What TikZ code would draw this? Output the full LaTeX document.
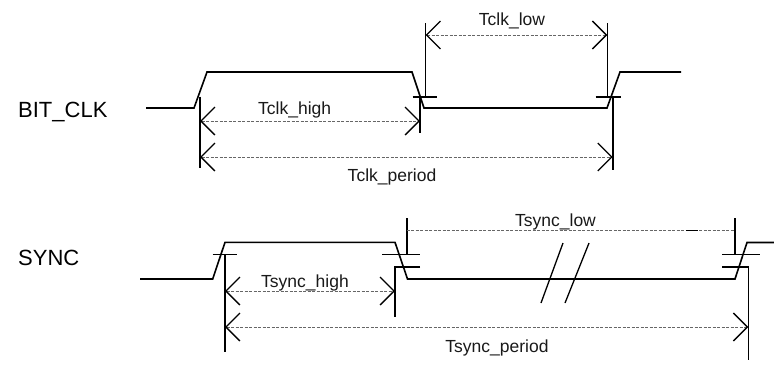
\documentclass[tikz,border=0pt]{standalone}
\usepackage{fontspec}
\setmainfont{Liberation Sans}
\usetikzlibrary{arrows.meta}
\begin{document}
\begin{tikzpicture}[x=1pt,y=-1pt,
  wave/.style={line width=1.6pt, line join=miter},
  refline/.style={line width=1.6pt},
  barb/.tip={Straight Barb[length=14pt,width=28pt,line width=1.3pt,color=black]},
  dimline/.style={line width=0.8pt, dash pattern=on 3pt off 1.5pt, draw=black!60},
  dimarrow/.style={dimline, barb-barb},
  lbl/.style={font=\fontsize{17.5}{20}\selectfont, inner sep=0pt, text=black!90, anchor=base},
  siglbl/.style={font=\fontsize{22}{25}\selectfont, inner sep=0pt, anchor=base west}]
\useasboundingbox (0,0) rectangle (774,365);

% ---------- signal names
\node[siglbl] (nbit) at (18,117) {BIT\_CLK};
\node[siglbl] (nsync) at (18,265.5) {SYNC};

% ---------- BIT_CLK waveform
\coordinate (b0) at (146,108);
\coordinate (b1) at (194,108);
\coordinate (b2) at (207,72);
\coordinate (b3) at (412,72);
\coordinate (b4) at (424,108);
\coordinate (b5) at (607,108);
\coordinate (b6) at (620,72);
\coordinate (b7) at (681,72);
\draw[wave] (b0) -- (b1) -- (b2) -- (b3) -- (b4) -- (b5) -- (b6) -- (b7);

% reference lines BIT_CLK
\coordinate (r1t) at (200,96.7);  \coordinate (r1b) at (200,168);
\coordinate (r2t) at (420,96.7);  \coordinate (r2b) at (420,133);
\coordinate (t2l) at (412.5,96.7); \coordinate (t2r) at (437,96.7);
\coordinate (r3t) at (425.5,23); \coordinate (r3b) at (425.5,96.7);
\coordinate (r4t) at (607.3,23); \coordinate (r4b) at (607.3,96.7);
\coordinate (t4l) at (595.5,96.7); \coordinate (t4r) at (620.5,96.7);
\coordinate (r5t) at (612.7,96.7); \coordinate (r5b) at (612.7,170);
\draw[refline] (r1t) -- (r1b);
\draw[refline] (r2t) -- (r2b);
\draw[refline] (t2l) -- (t2r);
\draw[refline] (r3t) -- (r3b);
\draw[refline] (r4t) -- (r4b);
\draw[refline] (t4l) -- (t4r);
\draw[refline] (r5t) -- (r5b);

% dimensions BIT_CLK
\coordinate (dh1) at (200,121);   \coordinate (dh2) at (420,121);
\coordinate (dp1) at (200,157);   \coordinate (dp2) at (612.7,157);
\coordinate (dl1) at (425.5,35);  \coordinate (dl2) at (607.3,35);
\draw[dimarrow] (dh1) -- (dh2);
\draw[dimarrow] (dp1) -- (dp2);
\draw[dimarrow] (dl1) -- (dl2);
\node[lbl] (lch) at (294.7,114.3) {Tclk\_high};
\node[lbl] (lcp) at (392,181.7) {Tclk\_period};
\node[lbl] (lcl) at (512,25.7) {Tclk\_low};

% ---------- SYNC waveform
\coordinate (s0) at (140,279);
\coordinate (s1) at (212.7,279);
\coordinate (s2) at (225,242.3);
\coordinate (s3) at (395,242.3);
\coordinate (s4) at (407.5,279);
\coordinate (s5) at (735,279);
\coordinate (s6) at (747,242.5);
\coordinate (s7) at (774,242.5);
\draw[wave] (s0) -- (s1) -- (s2) -- (s3) -- (s4) -- (s5) -- (s6) -- (s7);

% reference lines SYNC
\coordinate (u1l) at (212.7,254.3); \coordinate (u1r) at (237.3,254.3);
\coordinate (v1t) at (225,254.3);   \coordinate (v1b) at (225,351.7);
\coordinate (u2l) at (382.3,254.3); \coordinate (u2r) at (420,254.3);
\coordinate (v2t) at (406.7,218.3); \coordinate (v2b) at (406.7,254.3);
\coordinate (w2a) at (420,266.7); \coordinate (w2b) at (395,266.7); \coordinate (w2c) at (395,316.5);
\coordinate (u3l) at (722.3,254.3); \coordinate (u3r) at (760,254.3);
\coordinate (v3t) at (735,218.3);   \coordinate (v3b) at (735,254.3);
\coordinate (w3a) at (722.3,266.7); \coordinate (w3b) at (748.3,266.7); \coordinate (w3c) at (748.3,360);
\draw[refline] (u1l) -- (u1r);
\draw[refline] (v1t) -- (v1b);
\draw[refline] (u2l) -- (u2r);
\draw[refline] (v2t) -- (v2b);
\draw[refline] (w2a) -- (w2b) -- (w2c);
\draw[refline] (u3l) -- (u3r);
\draw[refline] (v3t) -- (v3b);
\draw[refline] (w3a) -- (w3b) -- (w3c);

% break marks
\coordinate (k1a) at (541,303); \coordinate (k1b) at (563,243);
\coordinate (k2a) at (565,303); \coordinate (k2b) at (589,243);
\draw[line width=1.3pt] (k1a) -- (k1b);
\draw[line width=1.3pt] (k2a) -- (k2b);

% dimensions SYNC
\coordinate (el1) at (406.7,230.7); \coordinate (el2) at (735,230.7);
\coordinate (em1) at (686,230.2);   \coordinate (em2) at (698,230.2);
\coordinate (eh1) at (225,291);     \coordinate (eh2) at (395,291);
\coordinate (ep1) at (225,327);     \coordinate (ep2) at (748.3,327);
\draw[dimline] (el1) -- (el2);
\draw[line width=1.3pt] (em1) -- (em2);
\draw[dimarrow] (eh1) -- (eh2);
\draw[dimarrow] (ep1) -- (ep2);
\node[lbl] (lsh) at (305,287.3) {Tsync\_high};
\node[lbl] (lsl) at (555.5,226) {Tsync\_low};
\node[lbl] (lsp) at (497,352) {Tsync\_period};
\end{tikzpicture}
\end{document}
